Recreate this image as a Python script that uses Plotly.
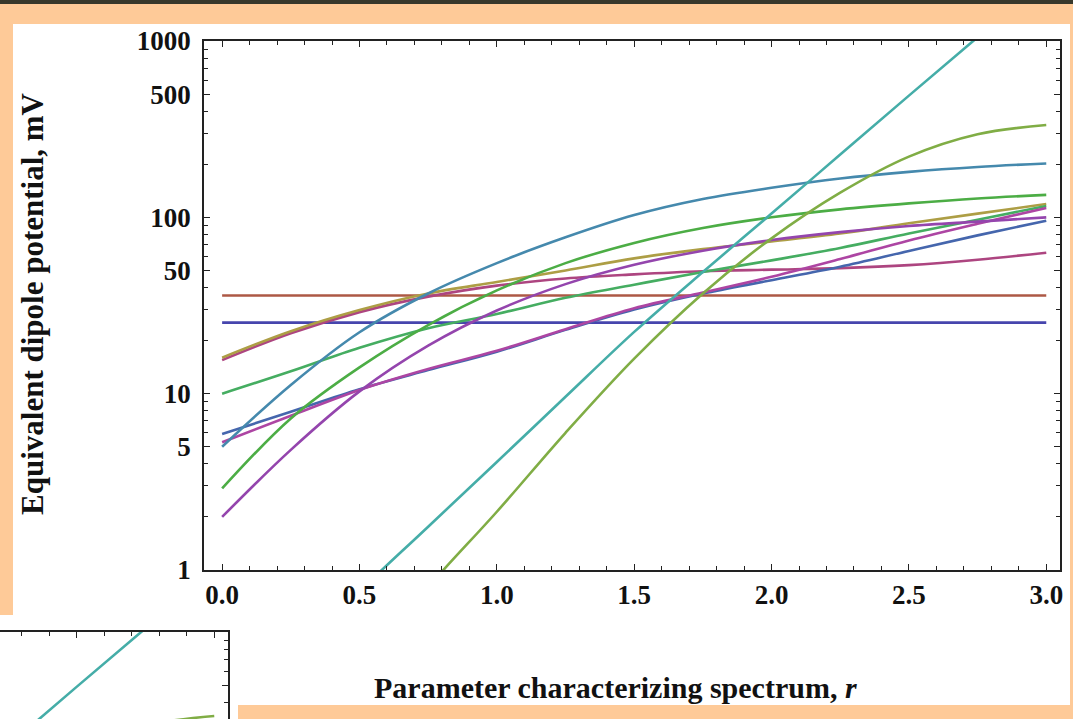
import plotly.graph_objects as go

# ---------------- data ----------------
r = [0.0, 0.25, 0.5, 0.75, 1.0, 1.25, 1.5, 1.75, 2.0, 2.25, 2.5, 2.75, 3.0]
r_flat = [0.0, 3.0]

indigo_flat = [25.3, 25.3]
brown_flat = [36.0, 36.0]
olive = [16, 22.6, 29.8, 37, 43, 50, 58.5, 66, 73, 81, 92.5, 105, 119]
crimson = [15.5, 22, 29, 35.5, 41, 45, 47.5, 49.5, 50.5, 51.5, 53.6, 57.5, 63]
green = [10, 13.4, 18.2, 23.5, 28.3, 35, 41.5, 49, 57, 67, 81, 97, 116]
blue = [5.9, 7.9, 10.6, 13.6, 17.3, 23, 30, 37, 44, 52.5, 64.5, 79, 95.7]
magenta = [5.3, 7.5, 10.5, 13.8, 17.5, 23.2, 30.5, 37.5, 46, 58, 74, 92, 113]
steel = [5, 11.2, 22.3, 37, 55, 77, 103, 127, 147, 166, 181, 193, 202]
dkgreen = [2.9, 7.24, 14.1, 24.5, 38.5, 55, 71.6, 87, 100, 111, 120, 128, 134]
purple = [2.0, 4.8, 10.3, 18.7, 29.6, 41.8, 53.8, 64.7, 74.3, 82.4, 89.3, 94.6, 100]
teal = [0.14, 0.32, 0.76, 1.76, 4.1, 9.6, 22.4, 49, 105, 227, 490, 1050, 2240]
ygreen = [0.034, 0.095, 0.27, 0.8, 2.14, 6.0, 15.8, 37, 76, 138, 221, 296, 334]

y_tickvals = [1, 5, 10, 50, 100, 500, 1000]
y_ticktext = ["1", "5", "10", "50", "100", "500", "1000"]
y_minor = [2, 3, 4, 6, 7, 8, 9, 20, 30, 40, 60, 70, 80, 90, 200, 300, 400, 600, 700, 800, 900]
x_ticks = [0.0, 0.5, 1.0, 1.5, 2.0, 2.5, 3.0]
x_minor = [i / 10 for i in range(0, 31)]

series = [
    (r_flat, indigo_flat, "#4645AD"),
    (r_flat, brown_flat, "#AD5845"),
    (r, crimson, "#AD4580"),
    (r, olive, "#AD9E45"),
    (r, green, "#45AD61"),
    (r, blue, "#4566AD"),
    (r, magenta, "#AD45A3"),
    (r, dkgreen, "#4CAD45"),
    (r, steel, "#4589AD"),
    (r, purple, "#9445AD"),
    (r, teal, "#45ADA8"),
    (r, ygreen, "#80AD45"),
]

W, H = 1073, 719
FONT = "Liberation Serif"

fig = go.Figure()
for xs, ys, c in series:
    fig.add_trace(go.Scatter(x=xs, y=ys, mode="lines",
                             line=dict(color=c, width=2.6, shape="spline", smoothing=1.0),
                             xaxis="x", yaxis="y", showlegend=False, hoverinfo="skip"))
# inset: same chart, a corner of it
for xs, ys, c in series:
    fig.add_trace(go.Scatter(x=xs, y=ys, mode="lines",
                             line=dict(color=c, width=2.6, shape="spline", smoothing=1.0),
                             xaxis="x2", yaxis="y2", showlegend=False, hoverinfo="skip"))


def px_x(p):
    return p / W


def px_y(p):
    return 1 - p / H


tickfont = dict(family=FONT, size=27, color="#111", weight="bold")
common = dict(showgrid=False, zeroline=False, automargin=False,
              ticks="inside", ticklen=6, tickwidth=1.2, tickcolor="#222",
              showline=True, linecolor="#222", linewidth=1.5)
minor = dict(ticks="inside", ticklen=4, tickwidth=1, tickcolor="#222")

fig.update_layout(
    template="none",
    width=W, height=H, autosize=False,
    margin=dict(l=0, r=0, t=0, b=0, pad=0, autoexpand=False),
    paper_bgcolor="#FECA98",
    plot_bgcolor="white",
    xaxis=dict(
        domain=[px_x(204), px_x(1060)], anchor="y",
        range=[-0.066, 3.05], tickvals=x_ticks, tickformat=".1f",
        mirror="ticks", tickfont=tickfont, ticklabelstandoff=0,
        minor=dict(tickvals=x_minor, **minor), **common,
    ),
    yaxis=dict(
        domain=[px_y(570), px_y(41)], anchor="x",
        type="log", range=[0, 3], tickvals=y_tickvals, ticktext=y_ticktext,
        mirror="ticks", tickfont=tickfont, ticklabelstandoff=6,
        minor=dict(tickvals=y_minor, **minor), **common,
    ),
    xaxis2=dict(
        domain=[0, px_x(228)], anchor="y2", side="top",
        range=[-0.066 + 628 / 274.7, 3.05], tickvals=x_ticks, showticklabels=False,
        mirror=False, minor=dict(tickvals=x_minor, **minor), **common,
    ),
    yaxis2=dict(
        domain=[0, px_y(632)], anchor="x2", side="right",
        type="log", range=[3 - 87 / 176.33, 3], tickvals=y_tickvals, showticklabels=False,
        mirror=False, minor=dict(tickvals=y_minor, **minor), **common,
    ),
    shapes=[
        dict(type="rect", xref="paper", yref="paper", layer="below",
             x0=px_x(13), x1=px_x(1070), y0=px_y(705), y1=px_y(24),
             fillcolor="white", line=dict(width=0)),
        dict(type="rect", xref="paper", yref="paper", layer="below",
             x0=0, x1=px_x(238), y0=0, y1=px_y(615),
             fillcolor="white", line=dict(width=0)),
        dict(type="rect", xref="paper", yref="paper", layer="below",
             x0=0, x1=1, y0=px_y(4), y1=1,
             fillcolor="#38382B", line=dict(width=0)),
    ],
    annotations=[
        dict(text="Parameter characterizing spectrum, <i>r</i>", xref="paper", yref="paper",
             x=px_x(615), y=px_y(687), xanchor="center", yanchor="middle", showarrow=False,
             font=dict(family=FONT, size=30, color="#111", weight="bold")),
        dict(text="Equivalent dipole potential, mV", xref="paper", yref="paper",
             x=px_x(33), y=px_y(304), xanchor="center", yanchor="middle", showarrow=False,
             textangle=-90,
             font=dict(family=FONT, size=31, color="#111", weight="bold")),
    ],
)

fig.write_html("out.html",
               post_script="document.body.style.margin='0';document.body.style.overflow='hidden';")
